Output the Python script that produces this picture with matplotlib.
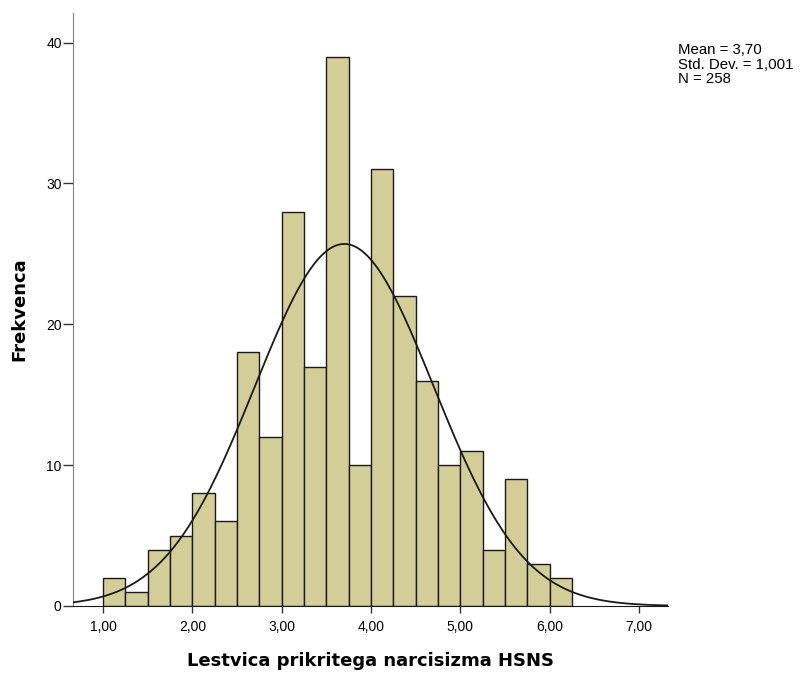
import numpy as np
import matplotlib
matplotlib.use("Agg")
import matplotlib.pyplot as plt

plt.rcParams['font.family'] = ['Liberation Sans', 'DejaVu Sans']

# histogram of HSNS scale scores, bins of 0.25 starting at 1.00
bin_edges = np.arange(1.0, 6.25 + 0.001, 0.25)
counts = [2, 1, 4, 5, 8, 6, 18, 12, 28, 17, 39, 10, 31, 22, 16, 10, 11, 4, 9, 3, 2]
mean_val = 3.70
std_val = 1.001
n_total = 258
xticks = [1, 2, 3, 4, 5, 6, 7]
yticks = [0, 10, 20, 30, 40]

fig = plt.figure(figsize=(8, 6.73), dpi=100)
ax = fig.add_axes([0.091, 0.0996, 0.744, 0.881])

width = bin_edges[1] - bin_edges[0]
ax.bar(bin_edges[:-1], counts, width=width, align='edge',
       color='#D3CE97', edgecolor='#1a1a1a', linewidth=1.0, zorder=2)

# normal curve scaled to counts
xs = np.linspace(0.66, 7.325, 400)
pdf = np.exp(-0.5 * ((xs - mean_val) / std_val) ** 2) / (std_val * np.sqrt(2 * np.pi))
ax.plot(xs, pdf * n_total * width, color='#1a1a1a', linewidth=1.3, zorder=3)

ax.set_xlim(0.66, 7.325)
ax.set_ylim(0, 42.1)
ax.set_xticks(xticks)
ax.set_xticklabels([f"{t:.2f}".replace('.', ',') for t in xticks])
ax.set_yticks(yticks)
ax.tick_params(axis='x', length=5, width=1, color='#333333', labelsize=10, pad=5)
ax.tick_params(axis='y', length=7, width=1, color='#333333', labelsize=10, pad=1)

for side in ['top', 'right']:
    ax.spines[side].set_visible(False)
ax.spines['left'].set_color('#808080')
ax.spines['bottom'].set_color('#1a1a1a')

ax.set_xlabel('Lestvica prikritega narcisizma HSNS', fontsize=13,
              fontweight='bold', labelpad=13, family='DejaVu Sans')
ax.set_ylabel('Frekvenca', fontsize=13, fontweight='bold',
              family='DejaVu Sans', va='center')
ax.yaxis.set_label_coords(-0.089, 0.5)

fig.text(0.848, 0.936, f"Mean = 3,70\nStd. Dev. = 1,001\nN = {n_total}",
         fontsize=10.8, va='top', ha='left', linespacing=1.05)

fig.savefig('out.png', dpi=100)
